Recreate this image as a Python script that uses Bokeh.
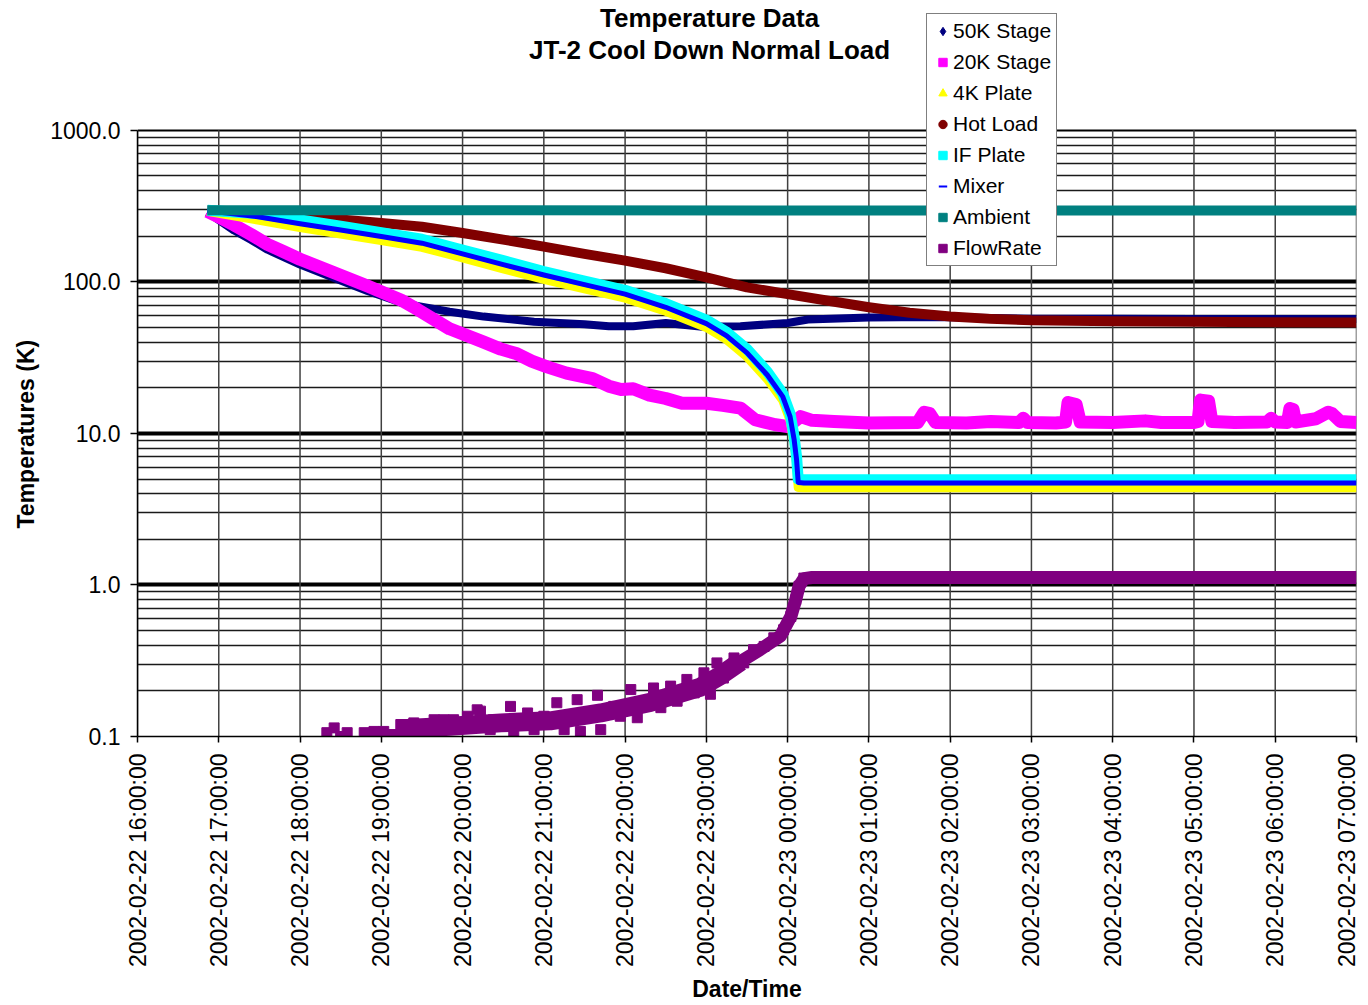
from bokeh.plotting import figure
from bokeh.models import FixedTicker, Legend, LegendItem, Title, Label, CustomJSTickFormatter, Grid
from bokeh.embed import file_html
from bokeh.resources import INLINE

FONT = "Liberation Sans"

# ---------------- axes / ticks ----------------
x_ticks = list(range(16, 32))  # hours since 2002-02-22 00:00
x_tick_labels = [
    "2002-02-22 16:00:00", "2002-02-22 17:00:00", "2002-02-22 18:00:00",
    "2002-02-22 19:00:00", "2002-02-22 20:00:00", "2002-02-22 21:00:00",
    "2002-02-22 22:00:00", "2002-02-22 23:00:00", "2002-02-23 00:00:00",
    "2002-02-23 01:00:00", "2002-02-23 02:00:00", "2002-02-23 03:00:00",
    "2002-02-23 04:00:00", "2002-02-23 05:00:00", "2002-02-23 06:00:00",
    "2002-02-23 07:00:00",
]
y_ticks = [0.1, 1, 10, 100, 1000]
y_tick_labels = ["0.1", "1.0", "10.0", "100.0", "1000.0"]
y_minor_ticks = [0.2, 0.3, 0.4, 0.5, 0.6, 0.7, 0.8, 0.9,
                 2, 3, 4, 5, 6, 7, 8, 9,
                 20, 30, 40, 50, 60, 70, 80, 90,
                 200, 300, 400, 500, 600, 700, 800, 900]
y_axis_min, y_axis_max = 0.1, 1000

# ---------------- series ----------------
t_50k = [16.86, 17.19, 17.4, 17.6, 18.0, 18.42, 18.83, 19.0, 19.24, 19.44, 19.84, 20.26, 20.88,
         21.5, 21.8, 22.1, 22.5, 22.95, 23.42, 24.0, 24.25, 25.0, 25.8, 26.5, 27.0, 28.0, 29.0,
         30.0, 31.0]
v_50k = [288, 218, 189, 163, 130, 106, 87, 81, 73, 69.5, 63.5, 59, 54.6,
         52.5, 51, 51, 53.5, 50.5, 51, 53.5, 56.5, 58.2, 58.6, 57.8, 57.2, 57, 56.8,
         56.8, 56.8]

t_20k = [16.86, 17.0, 17.19, 17.4, 17.6, 17.8, 18.0, 18.42, 18.83, 19.24, 19.44, 19.84, 20.26,
         20.47, 20.67, 20.85, 21.04, 21.28, 21.6, 21.8, 21.95, 22.1, 22.3, 22.5, 22.7, 23.0,
         23.2, 23.42, 23.6, 23.85, 24.0, 24.16, 24.3, 24.57, 25.0, 25.6, 25.68, 25.75, 25.82,
         26.2, 26.5, 26.85, 26.9, 26.95, 27.3, 27.42, 27.45, 27.55, 27.6, 28.0, 28.4, 28.6,
         29.0, 29.05, 29.08, 29.18, 29.22, 29.5, 29.9, 29.95, 30.0, 30.15, 30.18, 30.22, 30.25,
         30.5, 30.65, 30.7, 30.8, 31.0]
v_20k = [292, 268, 237, 205, 177, 158, 141, 115, 94, 76, 66, 49, 40,
         36, 33.5, 30, 27.5, 25, 23, 20.5, 19.5, 19.7, 17.9, 17, 15.8, 15.8,
         15.3, 14.7, 12.3, 11.4, 11.1, 12.9, 12.2, 12.0, 11.7, 11.8, 13.8, 13.5, 11.8,
         11.7, 12.0, 11.8, 12.6, 11.8, 11.7, 11.9, 16, 15.5, 11.9, 11.8, 12.1, 11.8,
         11.8, 12.0, 16.6, 16.3, 12.0, 11.8, 11.9, 12.6, 11.9, 11.8, 14.6, 14.4, 11.9,
         12.5, 13.8, 13.5, 12, 11.8]

t_cold = [16.86, 17.5, 18.0, 18.5, 19.0, 19.5, 20.0, 20.5, 21.0, 21.5, 22.0, 22.5, 23.0,
          23.25, 23.5, 23.75, 23.94, 24.03, 24.08, 24.11, 24.13, 24.2, 31.0]
v_4k = [292, 255, 228, 207, 187, 169, 144, 122, 104, 90, 78, 64, 50,
        41.5, 32, 22.8, 16.5, 12.2, 8.6, 6.3, 4.4, 4.38, 4.38]
v_if = [297, 282, 256, 233, 211, 191, 162, 138, 117, 101, 88, 72, 56,
        46.5, 36, 25.5, 18.3, 13.5, 9.5, 7.0, 5.0, 4.95, 4.95]
v_mixer = [295, 268, 242, 220, 199, 180, 153, 130, 111, 96, 83, 68, 53,
           44, 34, 24.3, 17.5, 12.9, 9.1, 6.7, 4.75, 4.7, 4.7]

t_hot = [16.86, 17.5, 18.0, 18.5, 19.0, 19.5, 20.0, 20.5, 21.0, 21.5, 22.0, 22.5, 23.0,
         23.5, 24.0, 24.5, 25.0, 25.5, 26.0, 26.5, 27.0, 28.0, 29.0, 30.0, 31.0]
v_hot = [296, 286, 272, 258, 245, 231, 210, 190, 171, 153, 138, 123, 107,
         92, 83, 75, 68, 62.5, 59, 57, 55.8, 55, 54.5, 54.2, 54]

t_amb = [16.86, 20.0, 24.0, 28.0, 31.0]
v_amb = [297, 297, 296, 296, 296]

t_flow_pts = [18.33, 18.42, 18.5, 18.58, 18.79, 18.91, 19.03, 19.15, 19.24, 19.4, 19.48, 19.65,
              19.77, 19.81, 19.89, 20.06, 20.18, 20.22, 20.34, 20.38, 20.59, 20.63, 20.8, 20.88,
              21.0, 21.16, 21.25, 21.41, 21.45, 21.57, 21.66, 21.7, 21.86, 21.94, 22.07, 22.15,
              22.27, 22.35, 22.44, 22.56, 22.64, 22.76, 22.85, 22.97, 23.05, 23.13, 23.21, 23.34,
              23.46, 23.58, 23.71, 23.83, 23.95, 24.04, 24.1, 24.14, 24.2]
v_flow_pts = [0.106, 0.114, 0.100, 0.106, 0.106, 0.108, 0.108, 0.103, 0.120, 0.123, 0.106, 0.129,
              0.129, 0.114, 0.129, 0.136, 0.150, 0.147, 0.111, 0.129, 0.158, 0.103, 0.143, 0.111,
              0.136, 0.167, 0.111, 0.175, 0.108, 0.143, 0.187, 0.111, 0.158, 0.136, 0.204, 0.133,
              0.167, 0.209, 0.155, 0.215, 0.171, 0.238, 0.194, 0.263, 0.190, 0.306, 0.243, 0.330,
              0.306, 0.374, 0.393, 0.448, 0.506, 0.62, 0.80, 0.98, 1.11]
# centre of the dense, noisy part of the flow-rate band
t_flow_band = [19.2, 19.85, 20.47, 21.08, 21.7, 22.31, 22.93, 23.17, 23.42]
v_flow_band = [0.112, 0.117, 0.123, 0.127, 0.143, 0.168, 0.212, 0.252, 0.312]
# centre of the narrower band afterwards
t_flow = [23.42, 23.66, 23.91, 24.04, 24.1, 24.14, 24.2, 24.3, 25.0, 26.0, 27.0, 28.0, 29.0,
          30.0, 31.0]
v_flow = [0.312, 0.374, 0.46, 0.62, 0.80, 0.98, 1.10, 1.12, 1.12, 1.12, 1.12, 1.12, 1.12,
          1.12, 1.12]

C_50K, C_20K, C_4K, C_HOT = "#000080", "#FF00FF", "#FFFF00", "#800000"
C_IF, C_MIX, C_AMB, C_FLOW = "#00FFFF", "#0000FF", "#008080", "#800080"

# ---------------- figure ----------------
# The frame reaches the top of the canvas so that title texts and legend (which overlap the
# plot area in the original) are drawn inside it; the axis, grid and border stop at 1000.
p = figure(width=1360, height=1005, x_range=(16, 31), y_range=(0.1, 7190),
           y_axis_type="log", output_backend="svg", toolbar_location=None,
           min_border_left=137, min_border_right=4, min_border_top=0, min_border_bottom=268)
p.background_fill_color = "white"
p.border_fill_color = "white"
p.outline_line_color = None
p.title.visible = False

# titles
p.add_layout(Label(x=23.04, y=5470, text="Temperature Data", text_align="center",
                   text_baseline="middle", text_font=FONT, text_font_size="26px",
                   text_font_style="bold", text_color="black"))
p.add_layout(Label(x=23.04, y=3365, text="JT-2 Cool Down Normal Load", text_align="center",
                   text_baseline="middle", text_font=FONT, text_font_size="26px",
                   text_font_style="bold", text_color="black"))

# axes
p.xaxis.ticker = FixedTicker(ticks=x_ticks)
p.xaxis.formatter = CustomJSTickFormatter(args=dict(tk=x_ticks, lb=x_tick_labels), code="""
for (let i = 0; i < tk.length; i++) { if (Math.abs(tk[i] - tick) < 1e-6) return lb[i]; }
return '';""")
p.xaxis.major_label_orientation = 1.5707963
p.yaxis.ticker = FixedTicker(ticks=y_ticks, minor_ticks=y_minor_ticks)
p.yaxis.formatter = CustomJSTickFormatter(args=dict(tk=y_ticks, lb=y_tick_labels), code="""
for (let i = 0; i < tk.length; i++) { if (Math.abs(Math.log10(tk[i]) - Math.log10(tick)) < 1e-6) return lb[i]; }
return '';""")
p.yaxis.bounds = (y_axis_min, y_axis_max)
for ax in (p.xaxis[0], p.yaxis[0]):
    ax.major_label_text_font = FONT
    ax.major_label_text_font_size = "23px"
    ax.major_label_text_color = "black"
    ax.axis_label_text_font = FONT
    ax.axis_label_text_font_size = "23px"
    ax.axis_label_text_font_style = "bold"
    ax.axis_label_text_color = "black"
    ax.axis_line_color = "black"
    ax.axis_line_width = 1.5
    ax.major_tick_line_color = "black"
    ax.major_tick_line_width = 1.5
    ax.major_tick_in = 0
    ax.minor_tick_line_color = None
p.xaxis.axis_label = "Date/Time"
p.xaxis.major_tick_out = 6
p.xaxis.major_label_standoff = 11
p.xaxis.axis_label_standoff = 6
p.yaxis.major_tick_out = 7
p.yaxis.major_label_standoff = 10
p.add_layout(Title(text="Temperatures (K)", align="left", offset=208, standoff=18,
                   text_font=FONT, text_font_size="23px", text_font_style="bold",
                   text_color="black"), "left")

# grids: thick decade lines inside, thinner lines on the plot-area edges, thin minor lines
p.xgrid.visible = False
p.ygrid.ticker = FixedTicker(ticks=y_ticks[1:-1], minor_ticks=y_minor_ticks)
p.ygrid.grid_line_color = "black"
p.ygrid.grid_line_width = 4
p.ygrid.minor_grid_line_color = "#1a1a1a"
p.ygrid.minor_grid_line_width = 1.3
p.add_layout(Grid(dimension=1, ticker=FixedTicker(ticks=[y_ticks[0], y_ticks[-1]]),
                  grid_line_color="black", grid_line_width=2))
# vertical hour grid lines limited to the axis span
p.segment(x0=x_ticks, y0=[y_axis_min] * len(x_ticks), x1=x_ticks, y1=[y_axis_max] * len(x_ticks),
          line_color="#404040", line_width=1.5)

# ---------------- data marks (Excel series order: later drawn on top) ----------------
p.line(t_50k, v_50k, line_color=C_50K, line_width=8, line_join="round")
p.line(t_20k, v_20k, line_color=C_20K, line_width=13, line_join="round")
p.line(t_cold, v_4k, line_color=C_4K, line_width=9, line_join="round")
p.line(t_hot, v_hot, line_color=C_HOT, line_width=10, line_join="round")
p.line(t_cold, v_if, line_color=C_IF, line_width=11, line_join="round")
p.line(t_cold, v_mixer, line_color=C_MIX, line_width=5, line_join="round")
p.line(t_amb, v_amb, line_color=C_AMB, line_width=10)
p.line(t_flow_band, v_flow_band, line_color=C_FLOW, line_width=19, line_join="round")
p.line(t_flow, v_flow, line_color=C_FLOW, line_width=13, line_join="round")
p.scatter(t_flow_pts, v_flow_pts, marker="square", size=10, fill_color=C_FLOW, line_color=C_FLOW)

# ---------------- legend ----------------
legend_specs = [
    ("50K Stage", "diamond", C_50K), ("20K Stage", "square", C_20K),
    ("4K Plate", "triangle", C_4K), ("Hot Load", "circle", C_HOT),
    ("IF Plate", "square", C_IF), ("Mixer", "dash", C_MIX),
    ("Ambient", "square", C_AMB), ("FlowRate", "square", C_FLOW),
]
items = []
for lab, mk, col in legend_specs:
    # a single point off the visible x range: only its legend swatch is seen
    r = p.scatter(x=[-100], y=[1], marker=mk, size=9, fill_color=col, line_color=col,
                  line_width=2 if mk == "dash" else 1)
    items.append(LegendItem(label=lab, renderers=[r]))
legend = Legend(items=items, location=(789, 470), margin=0, padding=5, spacing=7,
                glyph_width=21, glyph_height=22, label_height=22, label_standoff=0,
                label_text_font=FONT, label_text_font_size="21px", label_text_color="black",
                border_line_color="black", border_line_width=1.5, background_fill_color="white",
                background_fill_alpha=1)
p.add_layout(legend)

open("out.html", "w").write(file_html(p, INLINE))
